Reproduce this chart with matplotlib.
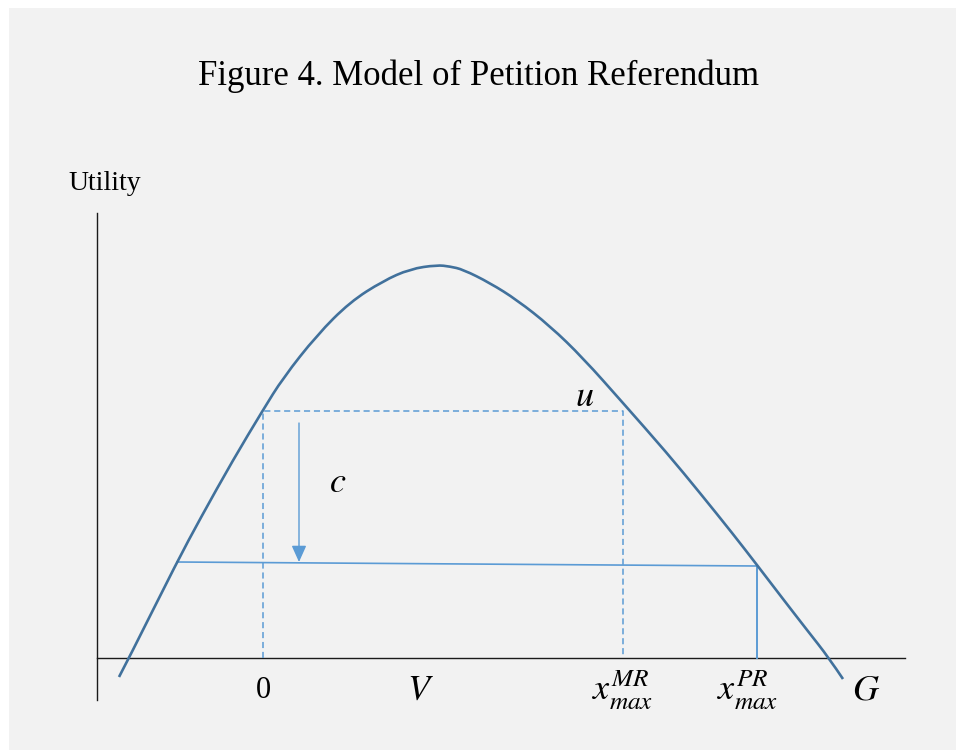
import matplotlib
matplotlib.use("Agg")
import matplotlib.pyplot as plt
from matplotlib.patches import Rectangle, PathPatch
from matplotlib.path import Path

# utility curve (x, height above the G axis)
curve_x = [119, 129, 177, 200, 233, 263, 283, 317, 350, 383, 410, 437, 450,
           463, 490, 517, 550, 583, 623, 667, 700, 733, 757, 783, 807, 829, 843]
curve_y = [-19, 0, 96, 139, 198, 248, 280, 323, 356, 377, 389, 393, 391.5,
           388.5, 375, 358, 332, 300, 255, 205, 165, 124, 93, 59, 28, 0, -21]

# reference levels
box_left, box_right, box_top = 263, 623, 247      # status quo 0 .. x_max^MR at utility u
pr_left, pr_right = 177, 757                       # u - c level
pr_level_left, pr_level_right = 96, 92
arrow_x, arrow_top, arrow_bottom = 299, 235, 96

tick_pos = [263, 420, 623, 748, 866]
tick_labels = ["0", "$V$", "$x_{max}^{MR}$", "$x_{max}^{PR}$", "$G$"]

title = "Figure 4. Model of Petition Referendum"
ylabel = "Utility"

plt.rcParams["mathtext.fontset"] = "stix"
serif = "Liberation Serif"


def smooth_path(xs, ys):
    # quadratic b-spline through the read points, drawn as a Path
    pts = list(zip(xs, ys))
    verts = [pts[0]]
    codes = [Path.MOVETO]
    for i in range(1, len(pts) - 1):
        if i == len(pts) - 2:
            end = pts[-1]
        else:
            end = ((pts[i][0] + pts[i + 1][0]) / 2, (pts[i][1] + pts[i + 1][1]) / 2)
        verts += [pts[i], end]
        codes += [Path.CURVE3, Path.CURVE3]
    return Path(verts, codes)


fig = plt.figure(figsize=(9.56, 7.5), dpi=100)
ax = fig.add_axes([0, 0, 1, 1])
ax.set_xlim(0, 956)
ax.set_ylim(-92, 658)
ax.axis("off")

# grey panel
ax.add_patch(Rectangle((9, -92), 947, 742, facecolor="#f2f2f2", edgecolor="none", zorder=0))

# axes
ax.plot([97, 97], [-42, 445], color="#1a1a1a", lw=1.0)
ax.plot([97, 905], [0, 0], color="#1a1a1a", lw=1.0)

# dashed box
light = "#5b9bd5"
ax.plot([box_left, box_left, box_right, box_right], [0, box_top, box_top, 0],
        color=light, lw=1.1, ls=(0, (4, 2.5)))

# u - c line and x_max^PR drop
ax.plot([pr_left, pr_right], [pr_level_left, pr_level_right], color=light, lw=1.2)
ax.plot([pr_right, pr_right], [pr_level_right, 0], color=light, lw=1.4)

# arrow c
ax.annotate("", xy=(arrow_x, arrow_bottom), xytext=(arrow_x, arrow_top),
            arrowprops=dict(arrowstyle="-|>,head_length=1.0,head_width=0.45",
                            color=light, lw=1.0, shrinkA=0, shrinkB=0))

# utility curve
ax.add_patch(PathPatch(smooth_path(curve_x, curve_y), facecolor="none",
                       edgecolor="#41719c", lw=1.9, capstyle="butt", zorder=3))

# text
ax.text(479, 582, title, ha="center", va="center", fontsize=25, family=serif)
ax.text(105, 475, ylabel, ha="center", va="center", fontsize=20, family=serif)
ax.text(585, 262, "$u$", ha="center", va="center", fontsize=26)
ax.text(338, 176, "$c$", ha="center", va="center", fontsize=26)
for x, lab in zip(tick_pos, tick_labels):
    if lab == "0":
        ax.text(x, -32, lab, ha="center", va="center", fontsize=22, family=serif)
    else:
        ax.text(x, -32, lab, ha="center", va="center", fontsize=26)

fig.savefig("out.png", dpi=100, facecolor="white")
